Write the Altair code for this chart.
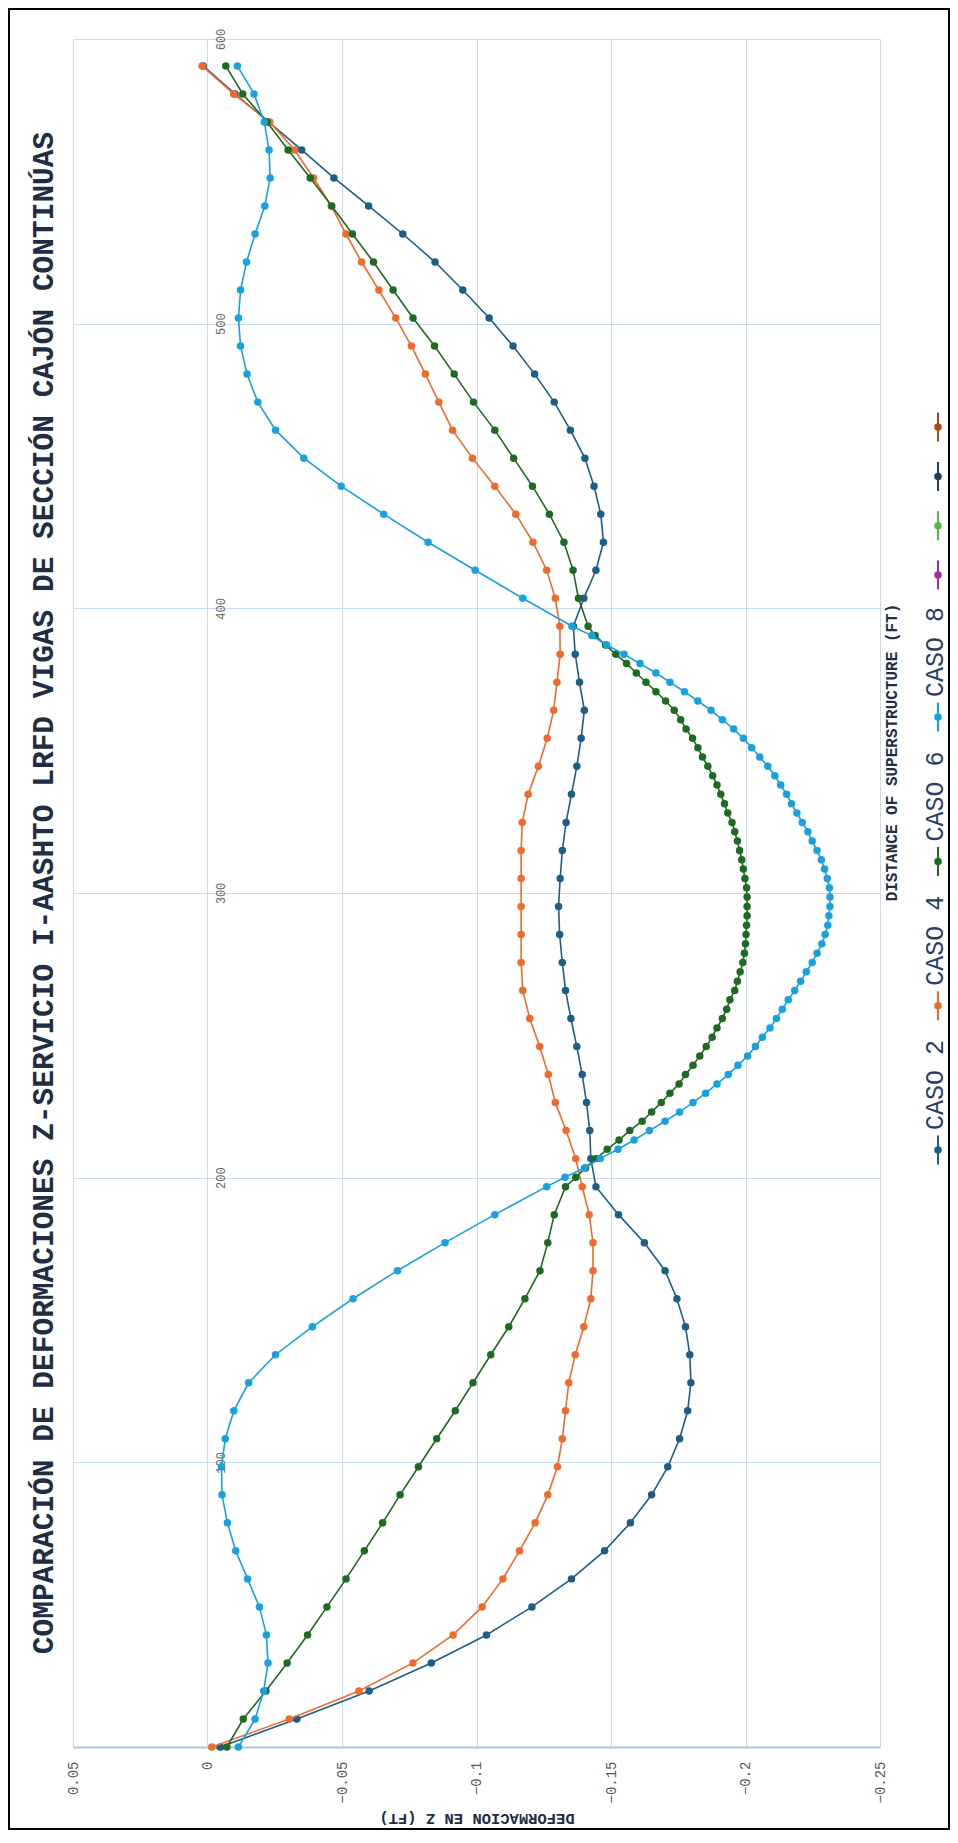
import altair as alt
import pandas as pd

# ---------------- data ----------------
# stations every 3 m (in ft) over the three 60 m spans
DIST_COARSE = [0.0, 9.84, 19.69, 29.53, 39.37, 49.21, 59.06, 68.9, 78.74, 88.58,
               98.43, 108.27, 118.11, 127.95, 137.8, 147.64, 157.48, 167.32, 177.17, 187.01,
               196.85, 206.69, 216.54, 226.38, 236.22, 246.06, 255.91, 265.75, 275.59, 285.43,
               295.28, 305.12, 314.96, 324.8, 334.65, 344.49, 354.33, 364.17, 374.02, 383.86,
               393.7, 403.54, 413.39, 423.23, 433.07, 442.91, 452.76, 462.6, 472.44, 482.28,
               492.13, 501.97, 511.81, 521.65, 531.5, 541.34, 551.18, 561.02, 570.87, 580.71,
               590.55]

# stations for the refined cases: 3 m in spans 1 and 3, 1 m in span 2
DIST_FINE = [0.0, 9.84, 19.69, 29.53, 39.37, 49.21, 59.06, 68.9, 78.74, 88.58,
             98.43, 108.27, 118.11, 127.95, 137.8, 147.64, 157.48, 167.32, 177.17, 187.01,
             196.85, 200.13, 203.41, 206.69, 209.97, 213.25, 216.54, 219.82, 223.1, 226.38,
             229.66, 232.94, 236.22, 239.5, 242.78, 246.06, 249.34, 252.62, 255.91, 259.19,
             262.47, 265.75, 269.03, 272.31, 275.59, 278.87, 282.15, 285.43, 288.71, 291.99,
             295.28, 298.56, 301.84, 305.12, 308.4, 311.68, 314.96, 318.24, 321.52, 324.8,
             328.08, 331.36, 334.65, 337.93, 341.21, 344.49, 347.77, 351.05, 354.33, 357.61,
             360.89, 364.17, 367.45, 370.73, 374.02, 377.3, 380.58, 383.86, 387.14, 390.42,
             393.7,
             403.54, 413.39, 423.23, 433.07, 442.91, 452.76, 462.6, 472.44, 482.28, 492.13,
             501.97, 511.81, 521.65, 531.5, 541.34, 551.18, 561.02, 570.87, 580.71, 590.55]

CASO_2 = [-0.0048, -0.0332, -0.0601, -0.0832, -0.1037, -0.1206, -0.1353, -0.1476, -0.1572, -0.1651,
          -0.1711, -0.1755, -0.1785, -0.1797, -0.1793, -0.1777, -0.1745, -0.1701, -0.1624, -0.1528,
          -0.1444, -0.1425, -0.1421, -0.1409, -0.1393, -0.1373, -0.1351, -0.1331, -0.1319, -0.1309,
          -0.1305, -0.1311, -0.1319, -0.1333, -0.1353, -0.1373, -0.1389, -0.1401, -0.1383, -0.1367,
          -0.1360, -0.1399, -0.1444, -0.1472, -0.1462, -0.1437, -0.1403, -0.1349, -0.1289, -0.1216,
          -0.1136, -0.1047, -0.0949, -0.0846, -0.0726, -0.0599, -0.0470, -0.0350, -0.0227, -0.0102,
          0.0016]

CASO_4 = [-0.0016, -0.0304, -0.0563, -0.0764, -0.0913, -0.1021, -0.1098, -0.1160, -0.1218, -0.1265,
          -0.1301, -0.1319, -0.1331, -0.1343, -0.1367, -0.1399, -0.1425, -0.1433, -0.1433, -0.1419,
          -0.1393, -0.1369, -0.1333, -0.1293, -0.1267, -0.1235, -0.1198, -0.1172, -0.1166, -0.1166,
          -0.1166, -0.1166, -0.1166, -0.1170, -0.1192, -0.1230, -0.1263, -0.1287, -0.1299, -0.1311,
          -0.1310, -0.1293, -0.1261, -0.1210, -0.1146, -0.1068, -0.0985, -0.0911, -0.0860, -0.0810,
          -0.0758, -0.0700, -0.0637, -0.0573, -0.0515, -0.0460, -0.0394, -0.0324, -0.0231, -0.0097,
          0.0020]

CASO_6 = [-0.0072, -0.0133, -0.0217, -0.0296, -0.0372, -0.0444, -0.0515, -0.0583, -0.0651, -0.0716,
          -0.0784, -0.0852, -0.0921, -0.0987, -0.1053, -0.1120, -0.1180, -0.1236, -0.1265, -0.1289,
          -0.1331, -0.1369, -0.1405, -0.1444, -0.1486, -0.1530, -0.1570, -0.1616, -0.1651, -0.1687,
          -0.1719, -0.1753, -0.1777, -0.1805, -0.1830, -0.1854, -0.1876, -0.1894, -0.1914, -0.1930,
          -0.1942, -0.1960, -0.1970, -0.1980, -0.1990, -0.1996, -0.2000, -0.2002, -0.2004, -0.2006,
          -0.2006, -0.2006, -0.2004, -0.1998, -0.1992, -0.1986, -0.1978, -0.1970, -0.1960, -0.1950,
          -0.1934, -0.1922, -0.1908, -0.1894, -0.1878, -0.1860, -0.1840, -0.1823, -0.1803, -0.1779,
          -0.1759, -0.1735, -0.1703, -0.1667, -0.1630, -0.1594, -0.1558, -0.1518, -0.1480, -0.1441,
          -0.1415,
          -0.1379, -0.1359, -0.1325, -0.1271, -0.1208, -0.1138, -0.1068, -0.0989, -0.0917, -0.0844,
          -0.0764, -0.0690, -0.0617, -0.0539, -0.0462, -0.0382, -0.0300, -0.0221, -0.0131, -0.0068]

CASO_8 = [-0.0115, -0.0177, -0.0209, -0.0225, -0.0219, -0.0193, -0.0149, -0.0105, -0.0074, -0.0054,
          -0.0052, -0.0066, -0.0098, -0.0153, -0.0253, -0.0390, -0.0541, -0.0706, -0.0883, -0.1068,
          -0.1261, -0.1329, -0.1401, -0.1460, -0.1526, -0.1586, -0.1643, -0.1701, -0.1755, -0.1805,
          -0.1852, -0.1894, -0.1936, -0.1972, -0.2008, -0.2037, -0.2063, -0.2091, -0.2115, -0.2137,
          -0.2159, -0.2183, -0.2205, -0.2226, -0.2248, -0.2266, -0.2284, -0.2296, -0.2306, -0.2310,
          -0.2314, -0.2314, -0.2312, -0.2304, -0.2294, -0.2282, -0.2266, -0.2248, -0.2232, -0.2211,
          -0.2191, -0.2171, -0.2153, -0.2131, -0.2109, -0.2083, -0.2053, -0.2023, -0.1992, -0.1956,
          -0.1914, -0.1872, -0.1823, -0.1773, -0.1719, -0.1667, -0.1608, -0.1548, -0.1484, -0.1429,
          -0.1355,
          -0.1172, -0.0995, -0.0820, -0.0655, -0.0497, -0.0358, -0.0253, -0.0187, -0.0147, -0.0123,
          -0.0115, -0.0123, -0.0145, -0.0177, -0.0213, -0.0233, -0.0229, -0.0211, -0.0173, -0.0111]

SERIES = ["CASO 2", "CASO 4", "CASO 6", "CASO 8"]
SERIES_DIST = [DIST_COARSE, DIST_COARSE, DIST_FINE, DIST_FINE]
SERIES_VALS = [CASO_2, CASO_4, CASO_6, CASO_8]
COLORS = ["#1b5e86", "#f06a2c", "#1c6b20", "#17a2dd"]
EXTRA_LEGEND_COLORS = ["#a3309a", "#5ab447", "#1f3f5c", "#ab4617"]

X_TICKS = [0.05, 0, -0.05, -0.1, -0.15, -0.2, -0.25]
Y_TICKS = [0, 100, 200, 300, 400, 500, 600]

TITLE = "COMPARACIÓN DE DEFORMACIONES Z-SERVICIO I-AASHTO LRFD VIGAS DE SECCIÓN CAJÓN CONTINÚAS"
X_TITLE = "DEFORMACION EN Z (FT)"
Y_TITLE = "DISTANCE OF SUPERSTRUCTURE (FT)"

# ---------------- layout / style ----------------
W, H = 807, 1708
PAD = {"left": 65, "top": 31, "right": 70, "bottom": 83}
MONO = "Courier New, Liberation Mono, monospace"
GRID = "#c8dcf1"
DARK = "#1f2d45"

x_axis = alt.Axis(
    values=X_TICKS, format="~g", orient="bottom",
    labelAngle=270, labelAlign="right", labelBaseline="middle", labelPadding=14,
    labelFont=MONO, labelFontSize=14, labelColor="#555555",
    labelFlush=False, labelOverlap=False, labelBound=False,
    ticks=False, tickSize=0,
    domain=True, domainColor="#a7c6e8", domainWidth=2,
    grid=True, gridColor=GRID, gridWidth=1,
    title=X_TITLE, titleFont=MONO, titleFontSize=15.5, titleFontWeight="bold",
    titleColor=DARK, titleAngle=180, titleAlign="center", titleBaseline="middle",
    titleX=W / 2, titleY=71,
)
y_axis = alt.Axis(
    values=Y_TICKS, format="d", orient="left", offset=-147.5,
    labelAngle=270, labelAlign="center", labelBaseline="middle", labelPadding=0,
    labelFont=MONO, labelFontSize=12, labelColor="#666666",
    labelFlush=False, labelOverlap=False,
    ticks=False, tickSize=0, domain=False,
    grid=True, gridColor=GRID, gridWidth=1,
    title=Y_TITLE, titleFont=MONO, titleFontSize=16, titleFontWeight="bold",
    titleColor=DARK, titleAngle=270, titleAlign="center", titleBaseline="middle",
    titleX=670.5, titleY=713,
)

x_enc = alt.X("defl:Q", title=X_TITLE,
              scale=alt.Scale(domain=[-0.25, 0.05], reverse=True, nice=False, zero=False),
              axis=x_axis)
y_enc = alt.Y("dist:Q", title=Y_TITLE,
              scale=alt.Scale(domain=[0, 600], nice=False, zero=False),
              axis=y_axis)
color_enc = alt.Color("serie:N", scale=alt.Scale(domain=SERIES, range=COLORS), legend=None)

layers = []

# outer frame of the figure
frame = alt.Chart(pd.DataFrame({"k": [0]})).mark_rect(
    fillOpacity=0, stroke="black", strokeWidth=2
).encode(
    x=alt.value(-PAD["left"] + 1), x2=alt.value(W + PAD["right"] - 1),
    y=alt.value(-PAD["top"] + 1), y2=alt.value(H + PAD["bottom"] - 1),
)
layers.append(frame)

for name, dist, vals in zip(SERIES, SERIES_DIST, SERIES_VALS):
    df = pd.DataFrame({"dist": dist, "defl": vals, "serie": name})
    layers.append(
        alt.Chart(df).mark_line(
            strokeWidth=1.6,
            point=alt.OverlayMarkDef(filled=True, size=56, opacity=1),
        ).encode(
            x=x_enc, y=y_enc, color=color_enc,
            order=alt.Order("dist:Q"),
            tooltip=["serie:N", "dist:Q", "defl:Q"],
        )
    )

# legend (rotated, like the rest of the figure)
leg_labels = SERIES + ["", "", "", ""]
leg_colors = COLORS + EXTRA_LEGEND_COLORS
sym_y = [1111 - 144.3 * i for i in range(4)] + [536 - 49.3 * j for j in range(4)]
leg = pd.DataFrame({
    "label": leg_labels,
    "color": leg_colors,
    "sy": sym_y,
    "y1": [v - 14.5 for v in sym_y],
    "y2": [v + 14.5 for v in sym_y],
    "ty": [v - 20 for v in sym_y],
    "sx": [865] * 8,
    "tx": [862] * 8,
})
leg_rule = alt.Chart(leg).mark_rule(strokeWidth=2).encode(
    x=alt.X("sx:Q", scale=None, axis=None),
    y=alt.Y("y1:Q", scale=None, axis=None), y2="y2:Q",
    color=alt.Color("color:N", scale=None, legend=None),
)
leg_pt = alt.Chart(leg).mark_point(filled=True, size=56, opacity=1).encode(
    x=alt.X("sx:Q", scale=None, axis=None),
    y=alt.Y("sy:Q", scale=None, axis=None),
    color=alt.Color("color:N", scale=None, legend=None),
)
leg_txt = alt.Chart(leg).mark_text(
    angle=270, align="left", baseline="middle", font=MONO, fontSize=25, color="#2a3f5f"
).encode(
    x=alt.X("tx:Q", scale=None, axis=None),
    y=alt.Y("ty:Q", scale=None, axis=None),
    text="label:N",
)
layers += [leg_rule, leg_pt, leg_txt]

chart = alt.layer(*layers).properties(
    width=W, height=H,
    title=alt.TitleParams(text=TITLE, orient="left", anchor="middle", frame="group",
                          font=MONO, fontSize=29.5, fontWeight="bold", color=DARK,
                          offset=-51),
    autosize=alt.AutoSizeParams(type="none"),
    padding=PAD,
    background="white",
).configure_view(strokeWidth=0)

chart.save("out.html", embed_options={"renderer": "svg", "actions": False})
